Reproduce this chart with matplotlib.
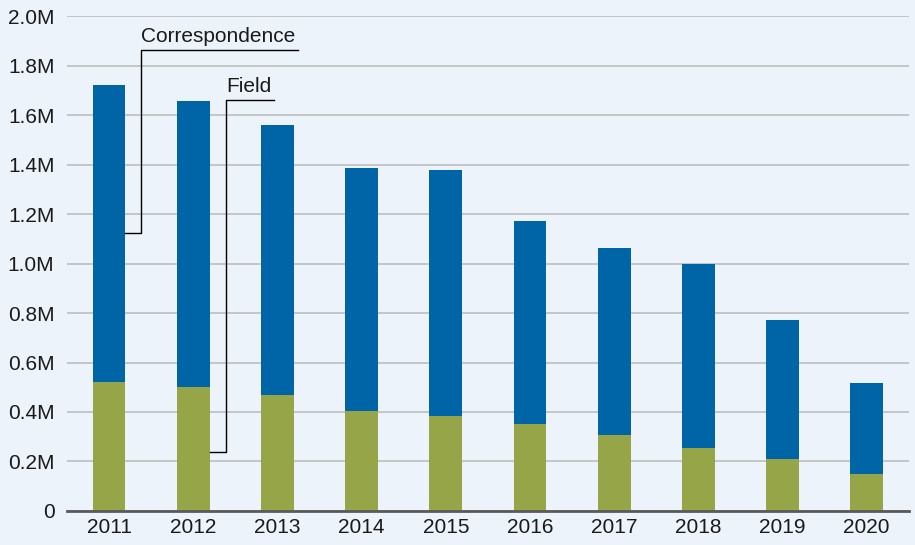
import matplotlib
matplotlib.use("Agg")
import matplotlib.pyplot as plt
import numpy as np
from matplotlib.ticker import FuncFormatter

# data (millions)
years = ["2011", "2012", "2013", "2014", "2015", "2016", "2017", "2018", "2019", "2020"]
field = [0.522, 0.502, 0.469, 0.404, 0.384, 0.351, 0.307, 0.253, 0.210, 0.148]
total = [1.721, 1.657, 1.560, 1.387, 1.377, 1.171, 1.063, 0.998, 0.772, 0.516]
correspondence = [t - f for t, f in zip(total, field)]

BG = "#EDF3FA"
BLUE = "#0065A6"
GREEN = "#96A547"

plt.rcParams["font.family"] = ["Liberation Sans", "DejaVu Sans"]

fig = plt.figure(figsize=(9.15, 5.45), dpi=100, facecolor=BG)
ax = fig.add_axes([0.0732, 0.0624, 0.920, 0.9082], facecolor=BG)

x = np.arange(len(years))
w = 0.39
ax.bar(x, field, width=w, color=GREEN, zorder=3)
ax.bar(x, correspondence, width=w, bottom=field, color=BLUE, zorder=3)

ax.set_xlim(-0.5, len(years) - 0.5)
ax.set_ylim(0, 2.0)
ax.set_yticks(np.arange(0, 2.01, 0.2))
ax.yaxis.set_major_formatter(FuncFormatter(lambda v, p: "0" if v == 0 else f"{v:.1f}M"))
ax.set_xticks(x)
ax.set_xticklabels(years)
ax.tick_params(length=0, labelsize=15, colors="#1a1a1a")
ax.tick_params(axis="y", pad=9)
ax.tick_params(axis="x", pad=5)

ax.grid(axis="y", color="#BDBDBD", linewidth=1.2, zorder=0)
for s in ["left", "right", "top"]:
    ax.spines[s].set_visible(False)
ax.spines["bottom"].set_color("#5A5A5A")
ax.spines["bottom"].set_linewidth(2)
ax.spines["bottom"].set_zorder(4)

# series labels with elbow leader lines
def label(text, bar_i, y_bar, x_v, y_top, x_end):
    ax.plot([bar_i + w / 2, x_v, x_v, x_end], [y_bar, y_bar, y_top, y_top],
            color="black", linewidth=1, zorder=5, clip_on=False)
    ax.text(x_v + 0.005, y_top + 0.015, text, fontsize=15, color="#1a1a1a",
            ha="left", va="bottom", zorder=5)

label("Correspondence", 0, 1.123, 0.379, 1.863, 2.243)
label("Field", 1, 0.238, 1.388, 1.661, 1.958)

fig.savefig("out.png", dpi=100, facecolor=BG)
